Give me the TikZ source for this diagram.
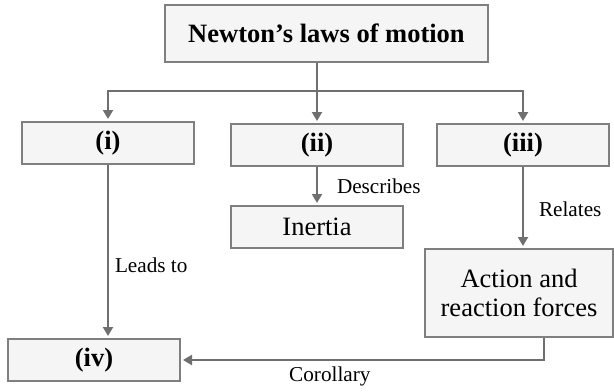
\documentclass[tikz,border=0pt]{standalone}
\usepackage{fontspec}
\setmainfont{Liberation Serif}
\usetikzlibrary{arrows.meta, positioning, calc}

\definecolor{boxgray}{HTML}{7F7F7F}
\definecolor{boxfill}{HTML}{F5F5F5}
\definecolor{linkgray}{HTML}{6F6F6F}

\begin{document}
\begin{tikzpicture}[
    x=0.5pt, y=-0.5pt,
    concept/.style={rectangle, draw=boxgray, fill=boxfill, line width=1pt, minimum width=86pt, minimum height=21pt, inner sep=2pt, font=\fontsize{13.25}{14.25}\selectfont, align=center},
    link/.style={draw=linkgray, line width=1pt, -{Triangle[length=4.5pt, width=5pt]}, shorten >=1pt},
    relation/.style={font=\fontsize{10.6}{12}\selectfont, text=black, inner sep=0pt}
]
\useasboundingbox (0,0) rectangle (614,391);

% Concepts
\node[concept, minimum width=161.5pt, minimum height=28.5pt, font=\fontsize{13.25}{14.25}\selectfont\bfseries] (newton) at (326.5, 33.5) {Newton’s laws of motion};

\node[concept, font=\fontsize{13.25}{14.25}\selectfont\bfseries] (i) at (108, 143) {(i)};
\node[concept, font=\fontsize{13.25}{14.25}\selectfont\bfseries] (ii) at (317, 145) {(ii)};
\node[concept, font=\fontsize{13.25}{14.25}\selectfont\bfseries] (iii) at (523, 145) {(iii)};

\node[concept] (inertia) at (317, 227) {Inertia};
\node[concept, minimum width=94pt, minimum height=44pt] (action) at (519, 293) {Action and\\reaction forces};
\node[concept, font=\fontsize{13.25}{14.25}\selectfont\bfseries] (iv) at (94, 360) {(iv)};

% Branches from the title
\coordinate (bus) at (317, 90.7);
\draw[link] (newton.south -| ii.north) -- (ii.north);
\draw[link] (bus) -| (i.north);
\draw[link] (bus) -| (iii.north);

% Relations
\draw[link] (ii.south) -- node[relation, right, xshift=9.5pt] {Describes} (inertia.north);

\draw[link] (i.south) -- node[relation, right, xshift=3pt, pos=0.58] {Leads to} (i.south |- iv.north);

\draw[link] (iii.south) -- node[relation, right, xshift=7.5pt, pos=0.52] {Relates} (iii.south |- action.north);

\draw[link] ([xshift=12.5pt]action.south) |- node[relation, below=3pt, pos=0.795] {Corollary} (iv.east);

\end{tikzpicture}
\end{document}
